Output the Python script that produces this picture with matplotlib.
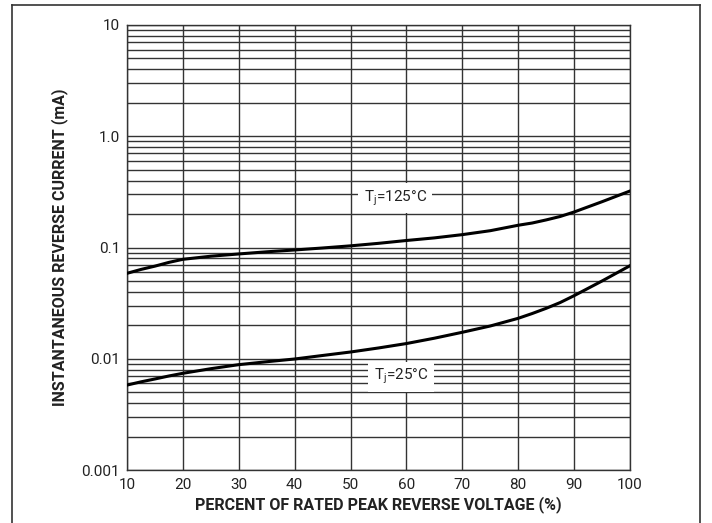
import matplotlib
matplotlib.use("Agg")
import matplotlib.pyplot as plt
from matplotlib.lines import Line2D

plt.rcParams["font.family"] = ["Roboto", "DejaVu Sans"]

# =========================
# 数据
# =========================
voltage_pct = [10, 12.5, 15, 17.5, 20, 25, 30, 35, 40, 45, 50, 55, 60, 65, 70, 75, 80,
               82.5, 85, 87.5, 90, 95, 100]
current_125c = [0.0586, 0.0635, 0.068, 0.0735, 0.0783, 0.0835, 0.0875, 0.0915, 0.095, 0.099,
                0.1035, 0.109, 0.1156, 0.122, 0.1305, 0.1416, 0.1585, 0.166, 0.177, 0.19,
                0.2085, 0.258, 0.322]
current_25c = [0.0058, 0.0062, 0.00658, 0.007, 0.0074, 0.00814, 0.00885, 0.0094, 0.00995,
               0.0107, 0.0115, 0.0125, 0.0137, 0.0153, 0.0173, 0.0197, 0.0231, 0.0255,
               0.0284, 0.032, 0.0369, 0.050, 0.0686]

x_ticks = [10, 20, 30, 40, 50, 60, 70, 80, 90, 100]
y_ticks = [0.001, 0.01, 0.1, 1.0, 10]
y_ticklabels = ["0.001", "0.01", "0.1", "1.0", "10"]

# =========================
# 绘图
# =========================
fig = plt.figure(figsize=(7.12, 5.23), dpi=100)
ax = fig.add_axes([127 / 712, 1 - 470 / 523, 503 / 712, 445 / 523])

ax.set_yscale("log")
ax.set_xlim(10, 100)
ax.set_ylim(0.001, 10)

ax.set_xticks(x_ticks)
ax.set_yticks(y_ticks)
ax.set_yticklabels(y_ticklabels)
ax.tick_params(axis="both", which="both", length=0, labelsize=11, colors="#222222")
ax.tick_params(axis="x", pad=6)
ax.tick_params(axis="y", pad=5)

ax.grid(True, which="major", axis="both", color="#333333", linewidth=1.0)
ax.grid(True, which="minor", axis="y", color="#333333", linewidth=1.0)
ax.set_axisbelow(True)
for sp in ax.spines.values():
    sp.set_color("#333333")
    sp.set_linewidth(1.0)

ax.plot(voltage_pct, current_125c, color="black", linewidth=2.2, zorder=3,
        solid_joinstyle="round")
ax.plot(voltage_pct, current_25c, color="black", linewidth=2.2, zorder=3,
        solid_joinstyle="round")

box = dict(boxstyle="square,pad=0.35", facecolor="white", edgecolor="none")
ax.text(58, 0.28, "T$_\\mathregular{j}$=125°C", ha="center", va="center", fontsize=11,
        color="#222222", bbox=box, zorder=4)
ax.text(59, 0.0069, "T$_\\mathregular{j}$=25°C", ha="center", va="center", fontsize=11,
        color="#222222", bbox=box, zorder=4)

ax.set_ylabel("INSTANTANEOUS REVERSE CURRENT (mA)", fontsize=11.5, fontweight="bold",
              color="#222222", labelpad=10)
ax.set_xlabel("PERCENT OF RATED PEAK REVERSE VOLTAGE (%)", fontsize=11.5, fontweight="bold",
              color="#222222", labelpad=3)

# 外框
frame_kw = dict(color="#333333", linewidth=1.2, transform=fig.transFigure)
fig.add_artist(Line2D([12 / 712, 12 / 712], [0, 1 - 5 / 523], **frame_kw))
fig.add_artist(Line2D([12 / 712, 700 / 712], [1 - 5 / 523, 1 - 5 / 523], **frame_kw))
fig.add_artist(Line2D([700 / 712, 700 / 712], [0, 1 - 5 / 523], **frame_kw))

fig.savefig("out.png", dpi=100)
